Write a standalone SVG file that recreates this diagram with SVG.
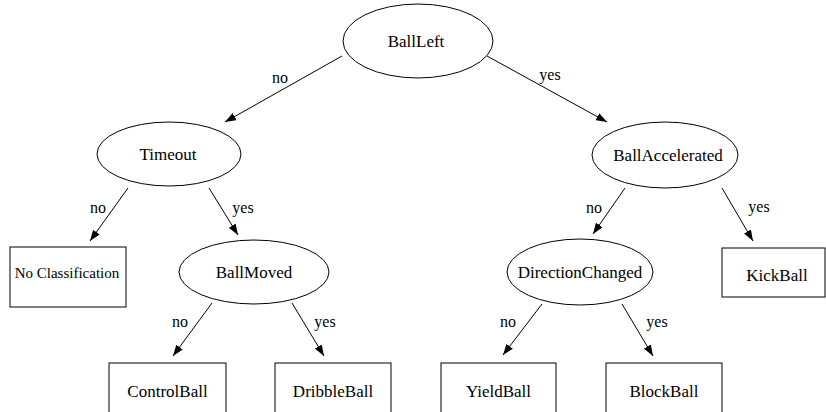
<svg xmlns="http://www.w3.org/2000/svg" width="826" height="412" viewBox="0 0 826 412">
<style>
.n{fill:#fff;stroke:#000;stroke-width:1}
text{fill:#000;text-anchor:middle}
.t{font-family:'Liberation Serif',serif;font-size:17px}
.s{font-family:'Liberation Serif',serif;font-size:15px}
.e{stroke:#000;stroke-width:1;fill:none;marker-end:url(#ah)}
.l{font-family:'Liberation Serif',serif;font-size:16px}
</style>
<defs>
<marker id="ah" markerUnits="userSpaceOnUse" markerWidth="12" markerHeight="8" refX="11" refY="4" orient="auto">
<path d="M0,0 L11,4 L0,8 Z" fill="#000"/>
</marker>
</defs>
<rect width="826" height="412" fill="#fff"/>
<g id="connectors">
<line class="e" x1="342" y1="56" x2="225" y2="122"/>
<line class="e" x1="487" y1="56" x2="607" y2="122"/>
<line class="e" x1="128" y1="188" x2="90" y2="241"/>
<line class="e" x1="209" y1="188" x2="238" y2="235"/>
<line class="e" x1="212" y1="303" x2="173" y2="356"/>
<line class="e" x1="292" y1="303" x2="324" y2="356"/>
<line class="e" x1="625" y1="188" x2="593" y2="234"/>
<line class="e" x1="722" y1="188" x2="753" y2="241"/>
<line class="e" x1="542" y1="304" x2="503" y2="355"/>
<line class="e" x1="622" y1="304" x2="653" y2="356"/>
<text class="l" x="280" y="83">no</text>
<text class="l" x="550" y="80">yes</text>
<text class="l" x="98" y="213">no</text>
<text class="l" x="243" y="213">yes</text>
<text class="l" x="180" y="327">no</text>
<text class="l" x="325" y="327">yes</text>
<text class="l" x="594" y="213">no</text>
<text class="l" x="759" y="212">yes</text>
<text class="l" x="508" y="327">no</text>
<text class="l" x="657" y="327">yes</text>
</g>
<g id="BallLeft"><ellipse class="n" cx="418" cy="41" rx="75" ry="37"/><text class="t" x="416" y="47">BallLeft</text></g>
<g id="Timeout"><ellipse class="n" cx="169" cy="154" rx="72" ry="32"/><text class="t" x="168" y="160">Timeout</text></g>
<g id="BallAccelerated"><ellipse class="n" cx="665" cy="155" rx="73" ry="33"/><text class="t" x="668" y="161">BallAccelerated</text></g>
<g id="NoClassification"><rect class="n" x="10" y="247" width="116" height="60"/><text class="s" x="67" y="278">No Classification</text></g>
<g id="BallMoved"><ellipse class="n" cx="254" cy="272" rx="75" ry="32"/><text class="t" x="254" y="278">BallMoved</text></g>
<g id="DirectionChanged"><ellipse class="n" cx="580" cy="272" rx="73" ry="33"/><text class="t" x="580" y="278">DirectionChanged</text></g>
<g id="KickBall"><rect class="n" x="722" y="248" width="103" height="49"/><text class="t" x="777" y="281">KickBall</text></g>
<g id="ControlBall"><rect class="n" x="109" y="363" width="117" height="60"/><text class="t" x="167.5" y="397">ControlBall</text></g>
<g id="DribbleBall"><rect class="n" x="275" y="363" width="116" height="60"/><text class="t" x="333" y="397">DribbleBall</text></g>
<g id="YieldBall"><rect class="n" x="441" y="363" width="115" height="60"/><text class="t" x="498.5" y="397">YieldBall</text></g>
<g id="BlockBall"><rect class="n" x="606" y="363" width="116" height="60"/><text class="t" x="664" y="397">BlockBall</text></g>
</svg>
